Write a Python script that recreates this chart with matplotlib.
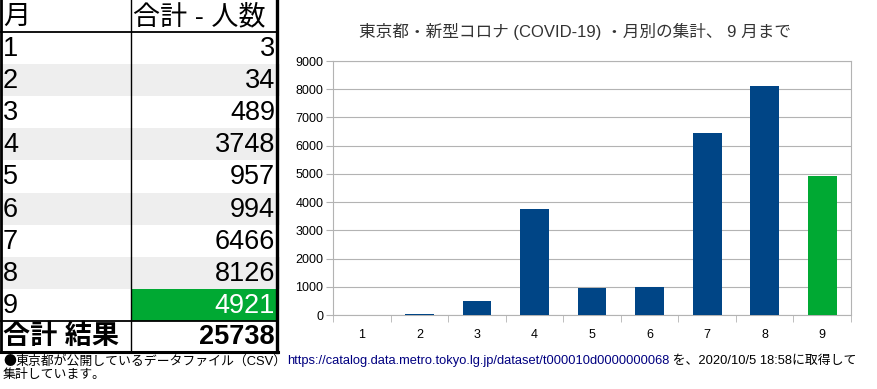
import matplotlib
matplotlib.use("Agg")
import matplotlib.pyplot as plt
from matplotlib.patches import Rectangle

plt.rcParams['font.family'] = ['Liberation Sans', 'Noto Sans CJK JP', 'DejaVu Sans']

months = ['1', '2', '3', '4', '5', '6', '7', '8', '9']
counts = [3, 34, 489, 3748, 957, 994, 6466, 8126, 4921]
total = 25738
header = ['月', '合計 - 人数']
total_label = '合計 結果'
title = '東京都・新型コロナ (COVID-19) ・月別の集計、 9 月まで'
yticks = [0, 1000, 2000, 3000, 4000, 5000, 6000, 7000, 8000, 9000]

BLUE = '#004586'
GREEN = '#00a933'
W, H = 877, 389
fig = plt.figure(figsize=(W / 100, H / 100), dpi=100)

# ---- table drawn in pixel coordinates ----
tab = fig.add_axes([0, 0, 1, 1])
tab.set_xlim(0, W)
tab.set_ylim(H, 0)
tab.axis('off')

fs = 19.5
top_h = 32.0
row_h = 32.1
xdiv = 130.5
xr = 277
tab.text(3, top_h / 2 + 1, header[0], fontsize=fs, va='center', ha='left')
tab.text(133, top_h / 2 + 1, header[1], fontsize=fs, va='center', ha='left')
for i, (m, c) in enumerate(zip(months, counts)):
    y0 = top_h + i * row_h
    if i % 2 == 1:
        tab.add_patch(Rectangle((0, y0), 280, row_h, color='#eeeeee', lw=0, zorder=0))
    color = 'black'
    if i == len(months) - 1:
        tab.add_patch(Rectangle((xdiv, y0), xr - xdiv, row_h, color=GREEN, lw=0, zorder=0))
        color = 'white'
    tab.text(3, y0 + row_h / 2 + 1, m, fontsize=fs, va='center', ha='left')
    tab.text(275, y0 + row_h / 2 + 1, str(c), fontsize=fs, va='center', ha='right', color=color)
y_tot = top_h + 9 * row_h
y_bot = 352
tab.text(3, (y_tot + y_bot) / 2 + 1, total_label, fontsize=fs, fontweight='bold', va='center', ha='left')
tab.text(275, (y_tot + y_bot) / 2 + 1, str(total), fontsize=fs, fontweight='bold', va='center', ha='right')
tab.plot([0, xr], [top_h, top_h], color='black', lw=1.3)
tab.plot([0, xr], [y_tot, y_tot], color='black', lw=1.3)
tab.plot([0, xr + 1], [y_bot, y_bot], color='black', lw=2.2)
tab.plot([xdiv, xdiv], [0, y_bot], color='black', lw=1)
tab.plot([xr, xr], [0, y_bot], color='black', lw=2.4)
tab.plot([1, 1], [0, y_bot], color='black', lw=2)

# footnote
ffs = 9.3
fy1 = 361
t0 = tab.text(3, fy1, '●', fontsize=ffs, va='center', ha='left', family=['Noto Sans CJK JP'])
fig.canvas.draw()
b0 = t0.get_window_extent()
t1 = tab.text(b0.x1, H - fy1, '東京都が公開しているデータファイル（CSV）', fontsize=ffs,
              va='center', ha='left', transform=None)
fig.canvas.draw()
bb = t1.get_window_extent()
t2 = tab.text(bb.x1, H - fy1, 'https://catalog.data.metro.tokyo.lg.jp/dataset/t000010d0000000068',
              fontsize=ffs, va='center', ha='left', color='#000080', transform=None)
fig.canvas.draw()
bb2 = t2.get_window_extent()
tab.text(bb2.x1, H - fy1, ' を、2020/10/5 18:58に取得して', fontsize=ffs, va='center', ha='left',
         transform=None)
tab.text(3, 375, '集計しています。', fontsize=ffs, va='center', ha='left')

# ---- bar chart ----
L, R, T, B = 333, 851, 61, 315
ax = fig.add_axes([L / W, (H - B) / H, (R - L) / W, (B - T) / H])
x = list(range(len(months)))
colors = [BLUE] * (len(months) - 1) + [GREEN]
ax.bar(x, counts, width=0.5, color=colors, zorder=3)
ax.set_xlim(-0.5, len(months) - 0.5)
ax.set_ylim(0, 9000)
ax.set_yticks(yticks)
ax.set_yticklabels([str(v) for v in yticks], fontsize=9)
ax.set_xticks(x)
ax.set_xticklabels(months, fontsize=9)
ax.set_xticks([i - 0.5 for i in range(len(months) + 1)], minor=True)
ax.tick_params(axis='x', which='major', length=0, pad=10)
ax.tick_params(axis='x', which='minor', length=5, color='#b3b3b3')
ax.tick_params(axis='y', length=5, color='#b3b3b3', pad=2)
ax.grid(axis='y', color='#b3b3b3', lw=0.8, zorder=0)
for s in ax.spines.values():
    s.set_color('#b3b3b3')
    s.set_linewidth(0.8)

fig.text(575 / W, 1 - 31 / H, title, fontsize=12, color='#333333', ha='center', va='center')

fig.savefig('out.png', dpi=100)
